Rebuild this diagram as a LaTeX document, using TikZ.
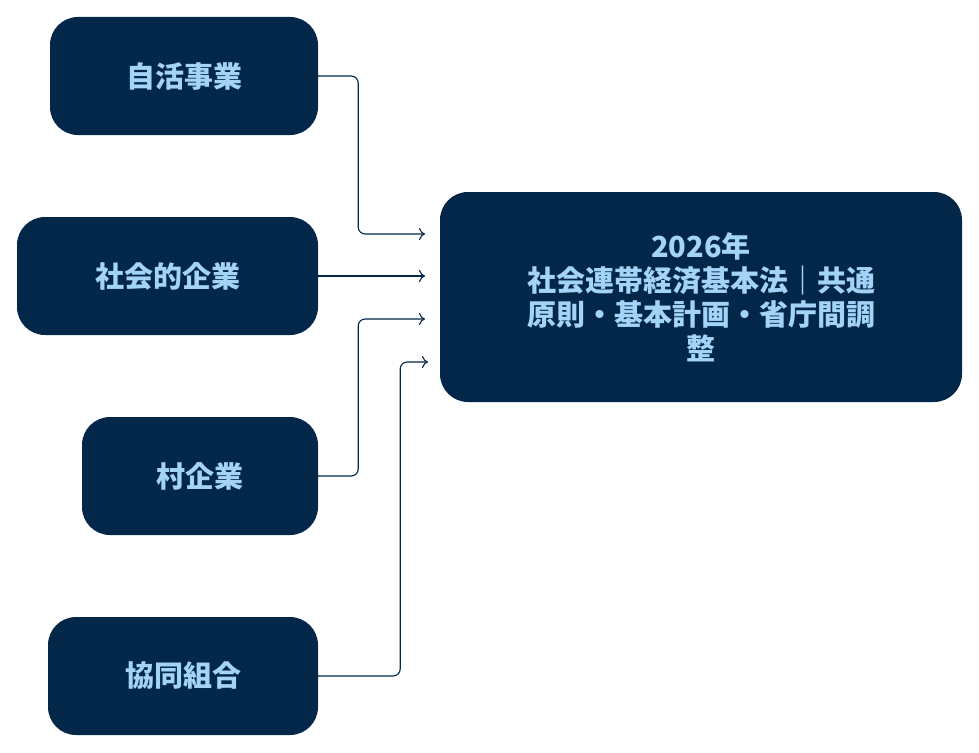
\documentclass[tikz,border=0pt]{standalone}
\usepackage{fontspec}
\newfontfamily\cjk{Noto Sans CJK JP}
\usetikzlibrary{arrows.meta}
\definecolor{navy}{HTML}{022749}
\definecolor{lblue}{HTML}{A3D3F7}
\tikzset{
  box/.style={draw=none,fill=navy,rounded corners=28pt,minimum height=118pt,
    text=lblue,font=\cjk\bfseries\fontsize{29}{34}\selectfont,align=center},
  link/.style={draw=navy,line width=1.1pt,rounded corners=7pt,-{To[length=6pt,width=12pt]}}
}
\begin{document}
\begin{tikzpicture}[x=1pt,y=-1pt]
  \useasboundingbox (0,0) rectangle (979,752);

  \node[box,minimum width=268pt] (jikatsu) at (184,76){自活事業};
  \node[box,minimum width=301pt] (shakai) at (167.5,276){社会的企業};
  \node[box,minimum width=236pt] (mura) at (200,476){村企業};
  \node[box,minimum width=270pt] (kyodo) at (183,676){協同組合};
  \node[box,minimum width=522pt,minimum height=210pt] (law) at (701,297)
    {2026年\\社会連帯経済基本法｜共通\\原則・基本計画・省庁間調\\整};

  \coordinate (in1) at (425,234);
  \coordinate (in2) at (425,276);
  \coordinate (in3) at (425,319);
  \coordinate (in4) at (428,362);

  \draw[link] (jikatsu.east) -- ++(40,0) |- (in1);
  \draw[link] (shakai.east) -- (in2);
  \draw[link] (mura.east) -- ++(40,0) |- (in3);
  \draw[link] (kyodo.east) -- ++(82,0) |- (in4);
\end{tikzpicture}
\end{document}
